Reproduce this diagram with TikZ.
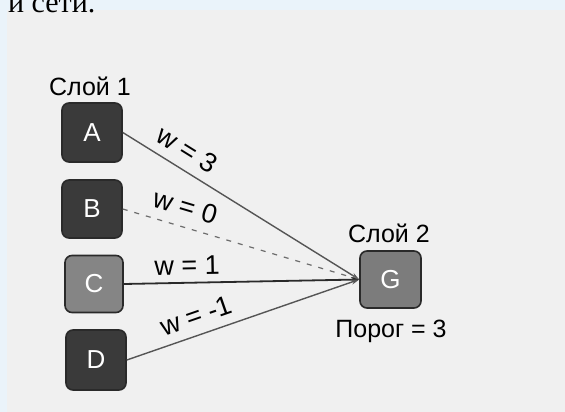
\documentclass[tikz,border=0pt]{standalone}
\usepackage{fontspec}
\setmainfont{Liberation Sans}
\newfontfamily\serifpage{Liberation Serif}
\usetikzlibrary{arrows.meta}
\definecolor{pageblue}{HTML}{EAF3FA}
\definecolor{paper}{HTML}{F0F0F0}
\definecolor{darkbox}{HTML}{3A3A3A}
\definecolor{midbox}{HTML}{858585}
\definecolor{gbox}{HTML}{7C7C7C}
\definecolor{edgeline}{HTML}{2A2A2A}
\definecolor{wline}{HTML}{555555}
\tikzset{
  neuron/.style={draw=edgeline, line width=1.6pt, rounded corners=7pt,
    minimum width=58pt, minimum height=57pt, inner sep=0pt,
    text=white, font=\fontsize{26}{30}\selectfont},
  darkneuron/.style={neuron, fill=darkbox},
  greyneuron/.style={neuron, fill=midbox},
  caption/.style={font=\fontsize{25}{30}\selectfont, text=black, inner sep=0pt},
  wlabel/.style={font=\fontsize{27}{30}\selectfont, text=black, sloped},
  link/.style={line width=1.4pt, draw=wline, -{Stealth[length=8pt,width=5pt]}},
}
\begin{document}
\begin{tikzpicture}[x=1pt,y=-1pt]
\useasboundingbox (0,0) rectangle (565,412);
\clip (0,0) rectangle (565,412);
\fill[pageblue] (0,0) rectangle (565,412);
\fill[paper] (7,10) rectangle (565,412);
\node[anchor=base west, inner sep=0pt, font=\serifpage\fontsize{30}{32}\selectfont] (top) at (8,13) {и сети.};

\node[caption] (layer1) at (90,86) {Слой 1};
\node[darkneuron, minimum width=60pt, minimum height=59pt] (A) at (92,132.5) {A};
\node[darkneuron, minimum width=60pt, minimum height=58pt] (B) at (92,209) {B};
\node[greyneuron] (C) at (94,284) {C};
\node[darkneuron, minimum width=60pt, minimum height=60pt] (D) at (96,360) {D};
\node[greyneuron, fill=gbox, minimum width=61pt, minimum height=57pt] (G) at (390.5,279.5) {G};
\node[caption] (layer2) at (389,233) {Слой 2};
\node[caption] (thr) at (391,331) {Порог = 3};

\draw[link] (A.east) -- node[wlabel, pos=0.23, above=6pt] {w = 3} (G.west);
\draw[link, draw=gray!85!black, line width=1.2pt, dash pattern=on 5pt off 7pt] (B.east) -- node[wlabel, pos=0.24, above=6.8pt] {w = 0} (G.west);
\draw[link, draw=edgeline, line width=1.8pt] (C.east) -- node[wlabel, pos=0.27, above=3.8pt] {w = 1} (G.west);
\draw[link] (D.east) -- node[wlabel, pos=0.325, above=5.8pt] {w = -1} (G.west);
\end{tikzpicture}
\end{document}
